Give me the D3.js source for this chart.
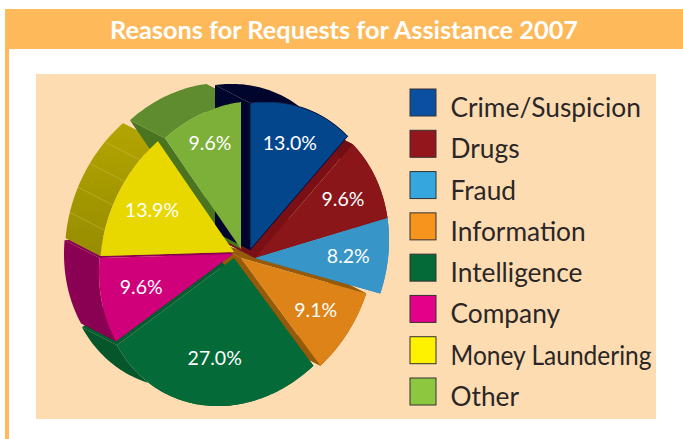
<!DOCTYPE html>
<html>
<head>
<meta charset="utf-8">
<script src="https://cdn.jsdelivr.net/npm/d3@7/dist/d3.min.js"></script>
<style>
  html, body { margin: 0; padding: 0; background: #fff; }
  svg { display: block; }
  text { font-family: Lato, "Open Sans", sans-serif; }
</style>
</head>
<body>
<svg id="chart" width="683" height="439"></svg>
<script>
// Chart content
const chartTitle = "Reasons for Requests for Assistance 2007";
const categories = ["Crime/Suspicion", "Drugs", "Fraud", "Information", "Intelligence", "Company", "Money Laundering", "Other"];
const shares = [13.0, 9.6, 8.2, 9.1, 27.0, 9.6, 13.9, 9.6];

// Slice styling
const legendColors = ["#0a4fa0", "#93161d", "#35a6de", "#f7941d", "#046a38", "#e5008a", "#fff200", "#8dc63f"];
const faceColors = ["#03468c", "#8a161a", "#3795c8", "#dd8318", "#036a38", "#d0007b", "#e8d800", "#7db038"];
const wallColors = ["#00052e", "#6f0f13", "#2b7ba6", "#965a08", "#05562a", "#8a0052", "url(#moneyWall)", "#5e8c2e"];
const edgeColors = ["#00052e", "#7a1015", "#2b7ba6", "#965a08", "#055c30", "#8a0052", "#a89c00", "#4a7420"];

// Exploded position of each slice's tip, and how far out its label sits
const sliceTipX = [250, 255, 255, 241, 234, 233, 234, 241];
const sliceTipY = [250, 258, 258, 258, 258, 254, 252, 249];
const labelRadius = [0.75, 0.73, 0.70, 0.70, 0.68, 0.70, 0.71, 0.78];

// The disc is a tilted circle: an affine map of the unit circle plus a constant extrusion
const radiusX = 134, radiusY = 147, shear = 18;
const depthX = -35, depthY = -18;
const wallOrder = [4, 3, 2, 1, 5, 6, 7, 0];

const svg = d3.select("#chart");

const moneyGradient = svg.append("defs").append("linearGradient")
  .attr("id", "moneyWall").attr("x1", 0).attr("y1", 0).attr("x2", 0).attr("y2", 1);
moneyGradient.append("stop").attr("offset", "0%").attr("stop-color", "#b3a500");
moneyGradient.append("stop").attr("offset", "100%").attr("stop-color", "#968c00");

// Page furniture
svg.append("rect").attr("x", 5).attr("y", 9).attr("width", 678).attr("height", 40).attr("fill", "#fdb95a");
svg.append("rect").attr("x", 5).attr("y", 49).attr("width", 4).attr("height", 390).attr("fill", "#fdb95a");
svg.append("rect").attr("x", 36).attr("y", 74).attr("width", 620).attr("height", 345).attr("fill", "#fddcb2");

svg.append("text")
  .attr("x", 344).attr("y", 38.5)
  .attr("text-anchor", "middle")
  .attr("font-size", 25).attr("font-weight", 700)
  .attr("fill", "#fff")
  .attr("textLength", 468).attr("lengthAdjust", "spacingAndGlyphs")
  .text(chartTitle);

const arcs = d3.pie().sort(null).startAngle(0).endAngle(2 * Math.PI)(shares);

const project = (i, angle, r = 1, deep = false) => [
  sliceTipX[i] + r * radiusX * Math.sin(angle) + (deep ? depthX : 0),
  sliceTipY[i] - r * (radiusY * Math.cos(angle) + shear * Math.sin(angle)) + (deep ? depthY : 0)
];

const rimAngles = a => {
  const n = Math.max(2, Math.ceil((a.endAngle - a.startAngle) / 0.02));
  return d3.range(n + 1).map(k => a.startAngle + (a.endAngle - a.startAngle) * k / n);
};

const line = d3.line();
const wallLayer = svg.append("g");
const faceLayer = svg.append("g");

// Extruded sides go first; every face then paints over them
wallOrder.forEach(i => {
  const a = arcs[i];
  const rim = rimAngles(a);
  const g = wallLayer.append("g");

  [a.startAngle, a.endAngle].forEach(t => {
    const side = [project(i, t, 0), project(i, t), project(i, t, 1, true), project(i, t, 0, true)];
    g.append("path").attr("d", line(side) + "Z").attr("fill", edgeColors[i]);
  });

  const outer = rim.map(t => project(i, t)).concat(rim.slice().reverse().map(t => project(i, t, 1, true)));
  g.append("path").attr("d", line(outer) + "Z").attr("fill", wallColors[i]);
});

// Facet lines along the curved side of the Money Laundering wedge
const moneyIndex = categories.indexOf("Money Laundering");
d3.range(1, 5).forEach(k => {
  const a = arcs[moneyIndex];
  const t = a.startAngle + (a.endAngle - a.startAngle) * k / 5;
  const seg = [project(moneyIndex, t), project(moneyIndex, t, 1, true)];
  wallLayer.append("path").attr("d", line(seg)).attr("stroke", "#c4b840").attr("stroke-width", 0.6).attr("fill", "none");
});

arcs.forEach((a, i) => {
  const outline = [project(i, a.startAngle, 0)].concat(rimAngles(a).map(t => project(i, t)));
  faceLayer.append("path").attr("d", line(outline) + "Z")
    .attr("fill", faceColors[i])
    .attr("stroke", i === 0 ? "#00052e" : "none")
    .attr("stroke-width", 0.8);
});

// Percentage labels
arcs.forEach((a, i) => {
  const mid = (a.startAngle + a.endAngle) / 2;
  const [x, y] = project(i, mid, labelRadius[i]);
  svg.append("text")
    .attr("x", x).attr("y", y + 6.5)
    .attr("text-anchor", "middle")
    .attr("font-size", 19.5)
    .attr("fill", "#fff")
    .text(shares[i].toFixed(1) + "%");
});

// Legend
const legendY = d3.scalePoint().domain(categories).range([89, 378]);
const legend = svg.append("g").selectAll("g").data(categories).join("g")
  .attr("transform", d => `translate(410,${legendY(d)})`);
legend.append("rect")
  .attr("width", 26).attr("height", 27)
  .attr("fill", (d, i) => legendColors[i])
  .attr("stroke", "#333").attr("stroke-width", 1);
legend.append("text")
  .attr("x", 40.5).attr("y", 28)
  .attr("font-size", 26.3)
  .attr("fill", "#2b2626")
  .attr("textLength", d => d === "Money Laundering" ? 201 : null)
  .attr("lengthAdjust", "spacingAndGlyphs")
  .text(d => d);
</script>
</body>
</html>
